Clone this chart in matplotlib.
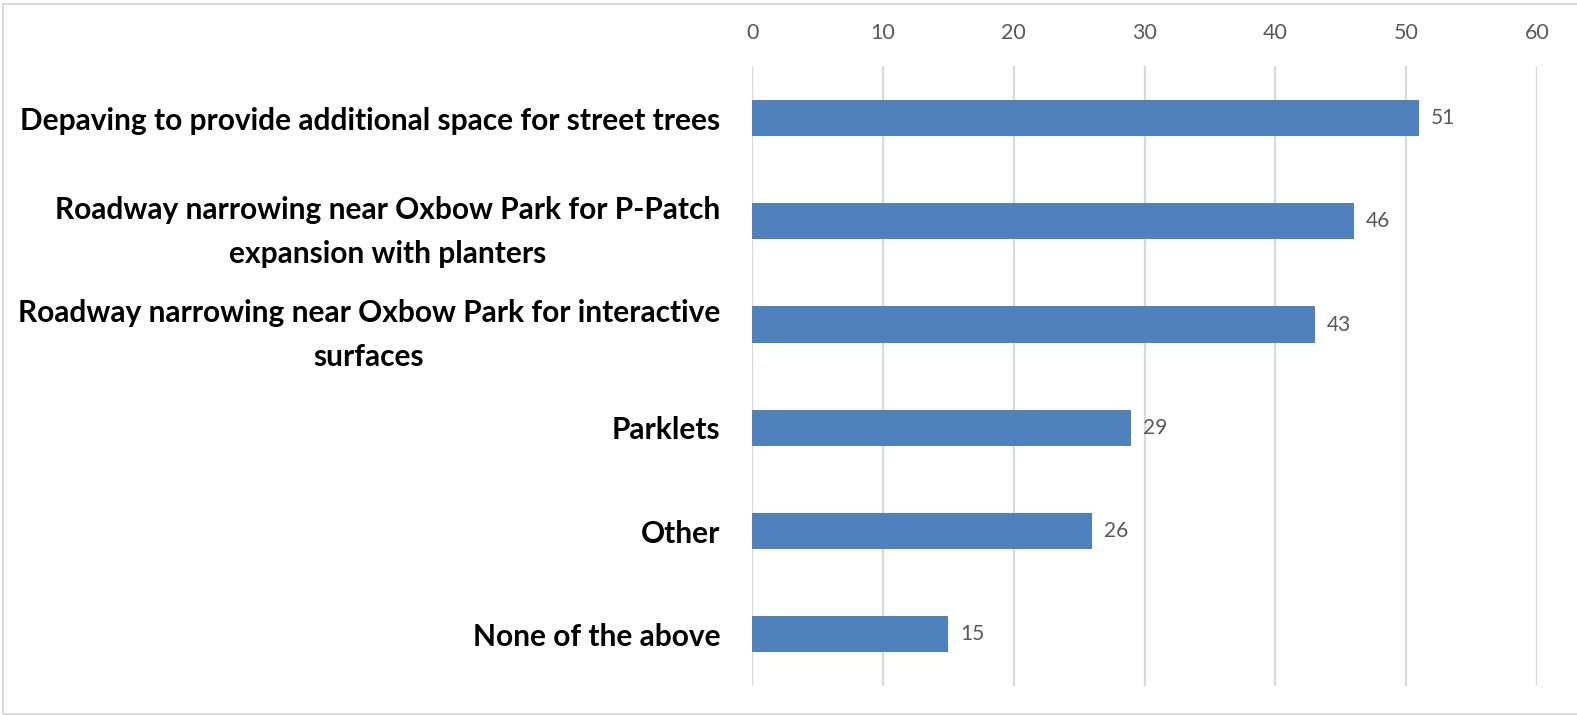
import matplotlib
matplotlib.use("Agg")
import matplotlib.pyplot as plt
from matplotlib.patches import Rectangle

categories = [
    "Depaving to provide additional space for street trees",
    "Roadway narrowing near Oxbow Park for P-Patch\nexpansion with planters",
    "Roadway narrowing near Oxbow Park for interactive\nsurfaces",
    "Parklets",
    "Other",
    "None of the above",
]
values = [51, 46, 43, 29, 26, 15]
x_ticks = [0, 10, 20, 30, 40, 50, 60]

BAR_COLOR = "#4F81BD"
GRID_COLOR = "#D9D9D9"
TEXT_GRAY = "#595959"

plt.rcParams["font.family"] = ["Lato", "DejaVu Sans"]

fig = plt.figure(figsize=(15.77, 7.15), dpi=100)
ax = fig.add_axes([0.4769, 0.0406, 0.4977, 0.8665])

y = list(range(len(categories)))
ax.barh(y, values, height=0.35, color=BAR_COLOR, zorder=3)

for yi, v in zip(y, values):
    ax.text(v + 0.9, yi, str(v), va="center", ha="left",
            fontsize=15, color=TEXT_GRAY, zorder=4)

ax.set_xlim(0, 60)
ax.set_ylim(len(categories) - 0.5, -0.5)
ax.set_xticks(x_ticks)
ax.set_xticklabels([str(t) for t in x_ticks], fontsize=15.5, color=TEXT_GRAY)
ax.xaxis.tick_top()
ax.tick_params(axis="x", length=0, pad=17)

ax.set_yticks(y)
ax.set_yticklabels(categories, fontsize=21.5, fontweight="bold",
                   color="black", ha="right", multialignment="center",
                   linespacing=1.7)
ax.tick_params(axis="y", length=0, pad=23)

ax.grid(axis="x", color=GRID_COLOR, linewidth=1.6, zorder=0)
for s in ax.spines.values():
    s.set_visible(False)

# light frame around the chart area
fig.patches.append(Rectangle((3 / 1577, 1 / 715), 1.2, 710 / 715,
                             transform=fig.transFigure, fill=False,
                             edgecolor="#D9D9D9", linewidth=1.5))

fig.savefig("out.png", dpi=100)
